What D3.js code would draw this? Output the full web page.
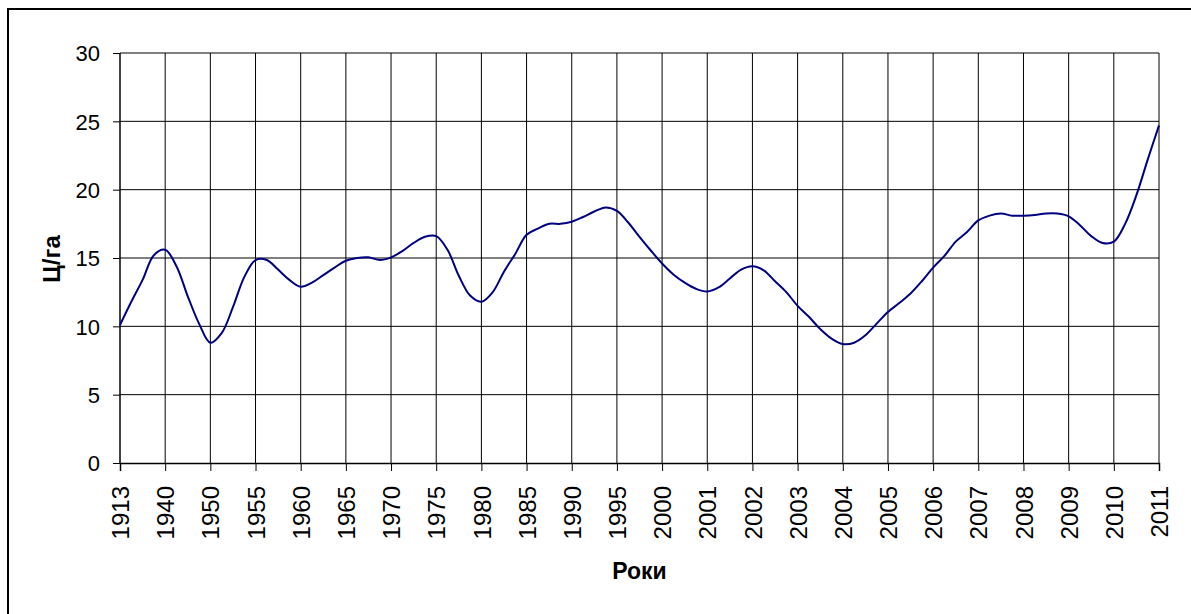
<!DOCTYPE html>
<html>
<head>
<meta charset="utf-8">
<script src="https://cdn.jsdelivr.net/npm/d3@7"></script>
<style>
  body { margin: 0; background: #fff; }
  svg { display: block; font-family: "Liberation Sans", Arial, sans-serif; }
</style>
</head>
<body>
<svg id="chart" width="1191" height="614"></svg>
<script>
// category labels on the x axis
const years = ["1913", "1940", "1950", "1955", "1960", "1965", "1970", "1975", "1980", "1985",
    "1990", "1995", "2000", "2001", "2002", "2003", "2004", "2005", "2006", "2007",
    "2008", "2009", "2010", "2011"];

// yield, c/ha, read every quarter of a category step
const stepsPerYear = 4;
const yields = [
    10.1, 11.8, 13.4, 15.2,
    15.6, 14.4, 12.2, 10.2,
    8.8, 9.5, 11.4, 13.6,
    14.85, 14.85, 14.15, 13.4,
    12.9, 13.2, 13.75, 14.3,
    14.8, 15.0, 15.05, 14.85,
    15.05, 15.5, 16.1, 16.55,
    16.6, 15.6, 13.7, 12.25,
    11.8, 12.5, 14.0, 15.3,
    16.7, 17.15, 17.5, 17.5,
    17.65, 18.0, 18.4, 18.7,
    18.45, 17.6, 16.55, 15.55,
    14.6, 13.8, 13.2, 12.75,
    12.55, 12.85, 13.5, 14.15,
    14.4, 14.1, 13.3, 12.5,
    11.5, 10.7, 9.8, 9.1,
    8.7, 8.8, 9.35, 10.2,
    11.05, 11.7, 12.4, 13.3,
    14.3, 15.15, 16.2, 16.9,
    17.75, 18.1, 18.25, 18.1,
    18.1, 18.15, 18.25, 18.25,
    18.05, 17.4, 16.6, 16.1,
    16.2, 17.5, 19.6, 22.2,
    24.7
];

const yTicks = [0, 5, 10, 15, 20, 25, 30];

const svg = d3.select("#chart");
const plot = { left: 120, right: 1159, top: 53, bottom: 463 };

// outer frame (runs off the right and bottom of the picture)
svg.append("rect")
    .attr("x", 8).attr("y", 9)
    .attr("width", 1200).attr("height", 620)
    .attr("fill", "none").attr("stroke", "#000").attr("stroke-width", 2);

const x = d3.scaleLinear().domain([0, years.length - 1]).range([plot.left, plot.right]);
const y = d3.scaleLinear().domain([0, 30]).range([plot.bottom, plot.top]);

// grid
const grid = svg.append("g").attr("stroke", "#000").attr("stroke-width", 1);
grid.selectAll("line.h").data(yTicks.slice(1)).join("line")
    .attr("class", "h")
    .attr("x1", plot.left).attr("x2", plot.right)
    .attr("y1", d => y(d)).attr("y2", d => y(d));
grid.selectAll("line.v").data(d3.range(1, years.length)).join("line")
    .attr("class", "v")
    .attr("x1", d => x(d)).attr("x2", d => x(d))
    .attr("y1", plot.top).attr("y2", plot.bottom);

// axes
const yAxis = svg.append("g")
    .attr("transform", `translate(${plot.left},0)`)
    .call(d3.axisLeft(y).tickValues(yTicks).tickSize(7).tickPadding(13));
const xAxis = svg.append("g")
    .attr("transform", `translate(0,${plot.bottom})`)
    .call(d3.axisBottom(x).tickValues(d3.range(years.length)).tickSize(8).tickFormat(i => years[i]));

[yAxis, xAxis].forEach(a => {
    a.select(".domain").attr("stroke", "#000").attr("stroke-width", 1.5);
    a.selectAll(".tick line").attr("stroke", "#000");
    a.selectAll("text").attr("fill", "#000")
        .style("font-family", "'Liberation Sans', Arial, sans-serif");
});
yAxis.select(".domain").attr("d", `M0,${plot.bottom}V${plot.top}`);
yAxis.selectAll(".tick text").attr("dy", "0.36em").style("font-size", "22px");

xAxis.selectAll(".tick text")
    .style("font-size", "24px")
    .attr("transform", "rotate(-90)")
    .attr("text-anchor", "end")
    .attr("x", -23)
    .attr("y", 0)
    .attr("dy", "0.36em");

// series
const line = d3.line()
    .x((d, i) => x(i / stepsPerYear))
    .y(d => y(d))
    .curve(d3.curveCatmullRom.alpha(0.5));

svg.append("path")
    .datum(yields)
    .attr("d", line)
    .attr("fill", "none")
    .attr("stroke", "#000080")
    .attr("stroke-width", 2);

// titles
svg.append("text")
    .attr("x", (plot.left + plot.right) / 2)
    .attr("y", 579)
    .attr("text-anchor", "middle")
    .style("font-size", "23px").style("font-weight", "bold")
    .text("Роки");

svg.append("text")
    .attr("transform", `translate(60,${(plot.top + plot.bottom) / 2 + 1}) rotate(-90)`)
    .attr("text-anchor", "middle")
    .style("font-size", "24px").style("font-weight", "bold")
    .text("Ц/га");
</script>
</body>
</html>
